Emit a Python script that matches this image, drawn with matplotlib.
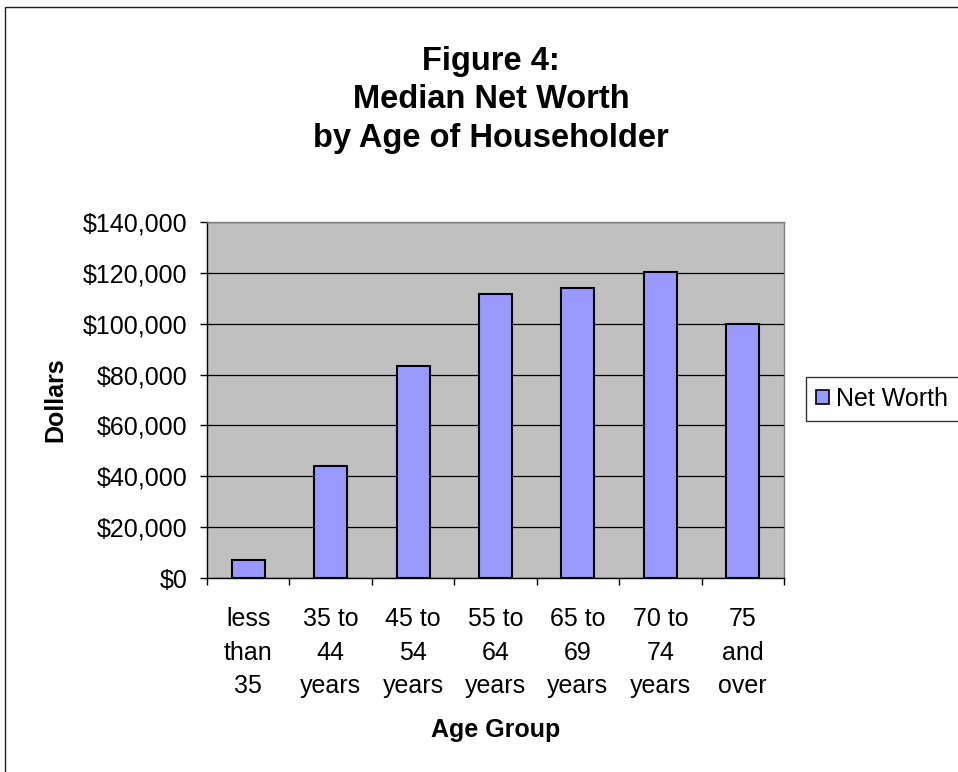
import numpy as np
import matplotlib
matplotlib.use('Agg')
import matplotlib.pyplot as plt
from matplotlib.patches import Patch, Rectangle
from matplotlib.ticker import FixedLocator, StrMethodFormatter

# data
age_groups = ['less\nthan\n35', '35 to\n44\nyears', '45 to\n54\nyears', '55 to\n64\nyears',
			'65 to\n69\nyears', '70 to\n74\nyears', '75\nand\nover']
net_worth = [7000, 44000, 83500, 111500, 114000, 120300, 100000]
y_ticks = [0, 20000, 40000, 60000, 80000, 100000, 120000, 140000]

plt.rcParams['font.family'] = ['Liberation Sans', 'DejaVu Sans']

W, H = 958, 772
fig = plt.figure(figsize=(W / 100, H / 100), dpi=100)
fig.patch.set_facecolor('white')

# chart area border (cut off at right and bottom)
fig.add_artist(Rectangle((5 / W, -0.1), 2, 1 - 7 / H + 0.1, transform=fig.transFigure,
						 fill=False, edgecolor='#202020', lw=1))

ax = fig.add_axes([207 / W, 1 - 578 / H, (784 - 207) / W, (578 - 222) / H])
ax.set_facecolor('#C0C0C0')

x = np.arange(len(age_groups))
ax.bar(x, net_worth, width=0.4, color='#9999FF', edgecolor='black', linewidth=1.5, zorder=3)

ax.set_xlim(-0.5, len(age_groups) - 0.5)
ax.set_ylim(0, 140000)

# y axis
ax.set_yticks(y_ticks)
ax.yaxis.set_major_formatter(StrMethodFormatter('${x:,.0f}'))
ax.tick_params(axis='y', direction='out', length=5, width=1, labelsize=18, pad=9)
ax.grid(axis='y', color='black', linewidth=0.9, zorder=1)
ax.set_axisbelow(True)

# x axis: ticks between categories, labels at centres
ax.xaxis.set_major_locator(FixedLocator(np.arange(-0.5, len(age_groups), 1.0)))
ax.xaxis.set_major_formatter(plt.NullFormatter())
ax.xaxis.set_minor_locator(FixedLocator(x))
ax.set_xticklabels(age_groups, minor=True, fontsize=18, linespacing=1.5, va='top')
ax.tick_params(axis='x', which='major', direction='out', length=5, width=1)
ax.tick_params(axis='x', which='minor', length=0, pad=21)

for s in ['top', 'right']:
	ax.spines[s].set_color('#808080')
	ax.spines[s].set_linewidth(1)
for s in ['left', 'bottom']:
	ax.spines[s].set_color('black')
	ax.spines[s].set_linewidth(1)

# titles
fig.text(491 / W, 1 - 100 / H, 'Figure 4:\nMedian Net Worth\nby Age of Householder',
		 ha='center', va='center', fontsize=23.5, fontweight='bold', linespacing=1.3)
fig.text(55 / W, 1 - 400 / H, 'Dollars', rotation=90, ha='center', va='center',
		 fontsize=18, fontweight='bold')
fig.text(496 / W, 1 - 730 / H, 'Age Group', ha='center', va='center',
		 fontsize=18, fontweight='bold')

# legend
handle = Patch(facecolor='#9999FF', edgecolor='black', linewidth=1.2, label='Net Worth')
leg = fig.legend(handles=[handle], loc='upper left', bbox_to_anchor=(806 / W, 1 - 377 / H),
				 fontsize=18, frameon=True, fancybox=False, shadow=False,
				 handlelength=0.52, handleheight=0.52, handletextpad=0.3,
				 borderpad=0.4, borderaxespad=0)
leg.get_frame().set_edgecolor('black')
leg.get_frame().set_linewidth(1)

fig.savefig('out.png', dpi=100)
